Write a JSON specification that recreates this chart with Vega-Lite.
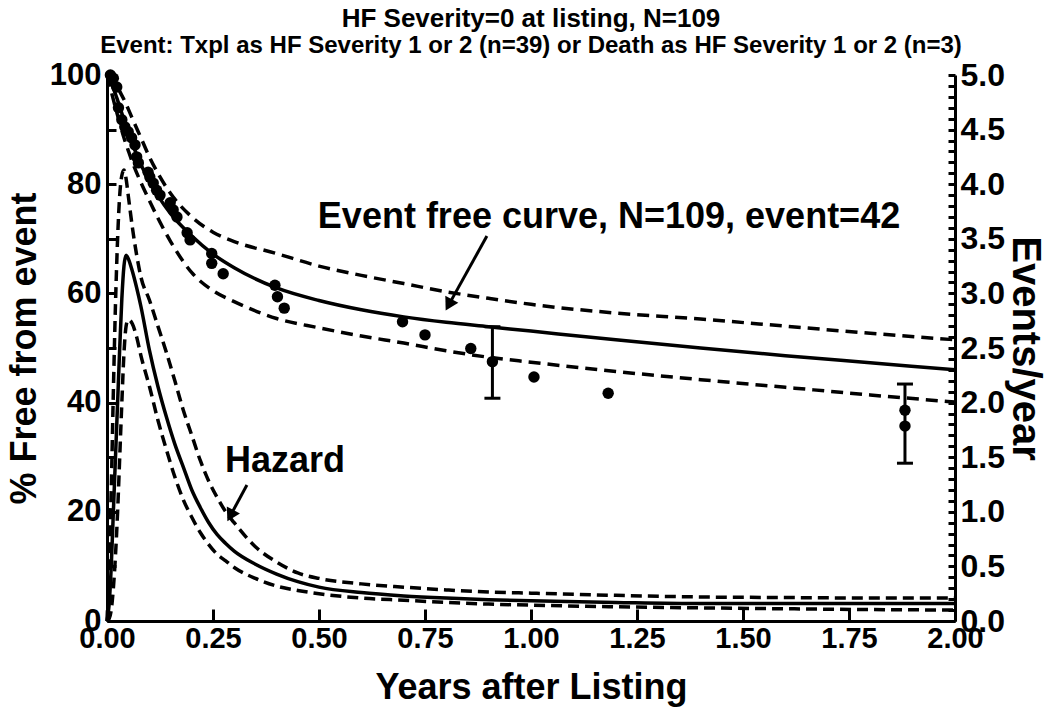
{
  "$schema": "https://vega.github.io/schema/vega-lite/v6.json",
  "width": 848,
  "height": 546,
  "autosize": {"type": "none"},
  "padding": {"left": 107, "top": 75, "right": 95, "bottom": 94},
  "background": "white",
  "title": {
    "text": "HF Severity=0 at listing, N=109",
    "subtitle": "Event: Txpl as HF Severity 1 or 2 (n=39) or Death as HF Severity 1 or 2 (n=3)",
    "font": "Liberation Sans",
    "subtitleFont": "Liberation Sans",
    "fontSize": 26,
    "subtitleFontSize": 24,
    "fontWeight": "bold",
    "subtitleFontWeight": "bold",
    "color": "black",
    "subtitleColor": "black",
    "anchor": "middle",
    "offset": 1,
    "subtitlePadding": 2
  },
  "datasets": {
    "surv": [
      {"t": 0, "S": 100, "lo": 100, "hi": 100},
      {"t": 0.01, "S": 98.5, "lo": 97, "hi": 99.5},
      {"t": 0.02, "S": 96.5, "lo": 94, "hi": 98.5},
      {"t": 0.03, "S": 94.2, "lo": 91.2, "hi": 97},
      {"t": 0.04, "S": 91.8, "lo": 88.5, "hi": 95.5},
      {"t": 0.05, "S": 89.5, "lo": 86.2, "hi": 93.8},
      {"t": 0.06, "S": 87.4, "lo": 84, "hi": 92},
      {"t": 0.08, "S": 83.6, "lo": 80.3, "hi": 88.5},
      {"t": 0.1, "S": 80.5, "lo": 77, "hi": 85},
      {"t": 0.12, "S": 77.9, "lo": 73.8, "hi": 82},
      {"t": 0.15, "S": 74.6, "lo": 69.5, "hi": 78.3},
      {"t": 0.2, "S": 70.5, "lo": 63.8, "hi": 74},
      {"t": 0.25, "S": 67.2, "lo": 60.5, "hi": 71.2},
      {"t": 0.3, "S": 64.7, "lo": 58.5, "hi": 69.5},
      {"t": 0.4, "S": 61.0, "lo": 55.4, "hi": 67.3},
      {"t": 0.5, "S": 58.7, "lo": 53.7, "hi": 65.0},
      {"t": 0.6, "S": 57.0, "lo": 52.2, "hi": 63.3},
      {"t": 0.7, "S": 55.7, "lo": 50.9, "hi": 61.8},
      {"t": 0.8, "S": 54.7, "lo": 49.5, "hi": 60.3},
      {"t": 0.9, "S": 53.9, "lo": 48.3, "hi": 59.1},
      {"t": 1.0, "S": 53.1, "lo": 47.4, "hi": 58.0},
      {"t": 1.2, "S": 51.5, "lo": 45.7, "hi": 56.4},
      {"t": 1.4, "S": 50.0, "lo": 44.2, "hi": 55.3},
      {"t": 1.6, "S": 48.6, "lo": 42.8, "hi": 54.0},
      {"t": 1.8, "S": 47.3, "lo": 41.4, "hi": 52.7},
      {"t": 2.0, "S": 46.0, "lo": 40.1, "hi": 51.5}
    ],
    "haz": [
      {"t": 0, "h": 0, "lo": 0, "hi": 0},
      {"t": 0.005, "h": 0.15, "lo": 0.02, "hi": 0.5},
      {"t": 0.01, "h": 0.5, "lo": 0.1, "hi": 1.2},
      {"t": 0.015, "h": 1.0, "lo": 0.3, "hi": 2.1},
      {"t": 0.02, "h": 1.5, "lo": 0.6, "hi": 2.9},
      {"t": 0.025, "h": 2.0, "lo": 1.0, "hi": 3.5},
      {"t": 0.03, "h": 2.5, "lo": 1.5, "hi": 3.9},
      {"t": 0.035, "h": 2.95, "lo": 2.0, "hi": 4.08},
      {"t": 0.04, "h": 3.25, "lo": 2.45, "hi": 4.13},
      {"t": 0.045, "h": 3.35, "lo": 2.7, "hi": 4.05},
      {"t": 0.05, "h": 3.32, "lo": 2.76, "hi": 3.9},
      {"t": 0.06, "h": 3.2, "lo": 2.72, "hi": 3.6},
      {"t": 0.07, "h": 3.05, "lo": 2.6, "hi": 3.35},
      {"t": 0.08, "h": 2.88, "lo": 2.43, "hi": 3.15},
      {"t": 0.1, "h": 2.48, "lo": 2.15, "hi": 2.94},
      {"t": 0.12, "h": 2.15, "lo": 1.84, "hi": 2.7},
      {"t": 0.14, "h": 1.87, "lo": 1.57, "hi": 2.46},
      {"t": 0.16, "h": 1.62, "lo": 1.32, "hi": 2.2},
      {"t": 0.18, "h": 1.41, "lo": 1.11, "hi": 1.93},
      {"t": 0.2, "h": 1.2, "lo": 0.95, "hi": 1.7},
      {"t": 0.22, "h": 1.04, "lo": 0.81, "hi": 1.47},
      {"t": 0.24, "h": 0.9, "lo": 0.7, "hi": 1.28},
      {"t": 0.26, "h": 0.79, "lo": 0.61, "hi": 1.13},
      {"t": 0.28, "h": 0.71, "lo": 0.55, "hi": 1.0},
      {"t": 0.3, "h": 0.64, "lo": 0.49, "hi": 0.9},
      {"t": 0.35, "h": 0.52, "lo": 0.39, "hi": 0.68},
      {"t": 0.4, "h": 0.43, "lo": 0.32, "hi": 0.54},
      {"t": 0.45, "h": 0.36, "lo": 0.28, "hi": 0.44},
      {"t": 0.5, "h": 0.31, "lo": 0.25, "hi": 0.39},
      {"t": 0.6, "h": 0.26, "lo": 0.21, "hi": 0.34},
      {"t": 0.7, "h": 0.23, "lo": 0.19, "hi": 0.31},
      {"t": 0.8, "h": 0.21, "lo": 0.17, "hi": 0.285},
      {"t": 0.9, "h": 0.195, "lo": 0.155, "hi": 0.265},
      {"t": 1.0, "h": 0.185, "lo": 0.145, "hi": 0.255},
      {"t": 1.2, "h": 0.17, "lo": 0.13, "hi": 0.235},
      {"t": 1.4, "h": 0.16, "lo": 0.12, "hi": 0.22},
      {"t": 1.6, "h": 0.16, "lo": 0.112, "hi": 0.215},
      {"t": 1.8, "h": 0.16, "lo": 0.105, "hi": 0.21},
      {"t": 2.0, "h": 0.16, "lo": 0.1, "hi": 0.21}
    ],
    "pts": [
      {"t": 0.008, "v": 100},
      {"t": 0.015, "v": 99.4},
      {"t": 0.023, "v": 97.8},
      {"t": 0.027, "v": 94.0},
      {"t": 0.035, "v": 91.8},
      {"t": 0.042, "v": 90.5},
      {"t": 0.05, "v": 89.6},
      {"t": 0.058, "v": 88.5},
      {"t": 0.066, "v": 87.2},
      {"t": 0.07, "v": 85.0},
      {"t": 0.074, "v": 83.9},
      {"t": 0.097, "v": 82.2},
      {"t": 0.101, "v": 81.3},
      {"t": 0.109, "v": 80.2},
      {"t": 0.117, "v": 78.9},
      {"t": 0.125, "v": 78.0},
      {"t": 0.149, "v": 76.6},
      {"t": 0.156, "v": 75.3},
      {"t": 0.165, "v": 74.0},
      {"t": 0.189, "v": 71.1},
      {"t": 0.196, "v": 69.8},
      {"t": 0.247, "v": 67.3},
      {"t": 0.247, "v": 65.5},
      {"t": 0.274, "v": 63.6},
      {"t": 0.396, "v": 61.5},
      {"t": 0.402, "v": 59.4},
      {"t": 0.418, "v": 57.3},
      {"t": 0.697, "v": 54.8},
      {"t": 0.75, "v": 52.4},
      {"t": 0.858, "v": 49.9},
      {"t": 0.909, "v": 47.5},
      {"t": 1.007, "v": 44.7},
      {"t": 1.182, "v": 41.7},
      {"t": 1.882, "v": 38.6},
      {"t": 1.882, "v": 35.7}
    ],
    "err": [
      {"t": 0.909, "lo": 40.8, "hi": 53.9},
      {"t": 1.882, "lo": 28.9, "hi": 43.4}
    ],
    "arrows": [
      {"name": "event", "t": 0.896, "v": 70.5, "t2": 0.806, "v2": 57.9},
      {"name": "hazard", "t": 0.33, "v": 24.9, "t2": 0.291, "v2": 19.3}
    ],
    "labels": [
      {"text": "Event free curve, N=109, event=42", "t": 1.184, "v": 74.0},
      {"text": "Hazard", "t": 0.42, "v": 29.3}
    ]
  },
  "config": {
    "font": "Liberation Sans",
    "view": {"stroke": null},
    "axis": {
      "grid": false,
      "domainColor": "black",
      "domainWidth": 3,
      "tickColor": "black",
      "tickWidth": 3,
      "labelColor": "black",
      "labelFontWeight": "bold",
      "titleColor": "black",
      "titleFontWeight": "bold",
      "labelFlush": false,
      "labelOverlap": false
    }
  },
  "layer": [
    {
      "layer": [
        {
          "data": {"name": "surv"},
          "mark": {"type": "line", "color": "black", "strokeWidth": 3.5, "interpolate": "monotone"},
          "encoding": {
            "x": {
              "field": "t", "type": "quantitative", "title": "Years after Listing",
              "scale": {"domain": [0, 2], "nice": false},
              "axis": {
                "values": [0, 0.25, 0.5, 0.75, 1, 1.25, 1.5, 1.75, 2],
                "tickCount": 20,
                "format": ".2f",
                "labelFontSize": 29,
                "labelPadding": 15,
                "labelOverlap": false,
                "titleFontSize": 36,
                "titlePadding": 17,
                "tickSize": -12
              }
            },
            "y": {
              "field": "S", "type": "quantitative", "title": "% Free from event",
              "scale": {"domain": [0, 100], "nice": false},
              "axis": {
                "values": [0, 10, 20, 30, 40, 50, 60, 70, 80, 90, 100],
                "tickCount": 20,
                "labelExpr": "datum.value % 20 == 0 ? datum.label : ''",
                "labelOverlap": false,
                "labelFontSize": 31,
                "labelPadding": 15,
                "titleFontSize": 36,
                "titlePadding": 6,
                "tickSize": -9
              }
            }
          }
        },
        {
          "data": {"name": "surv"},
          "mark": {"type": "line", "color": "black", "strokeWidth": 3.5, "strokeDash": [12, 7], "interpolate": "monotone"},
          "encoding": {
            "x": {"field": "t", "type": "quantitative", "title": "Years after Listing"},
            "y": {"field": "hi", "type": "quantitative", "title": "% Free from event"}
          }
        },
        {
          "data": {"name": "surv"},
          "mark": {"type": "line", "color": "black", "strokeWidth": 3.5, "strokeDash": [12, 7], "interpolate": "monotone"},
          "encoding": {
            "x": {"field": "t", "type": "quantitative", "title": "Years after Listing"},
            "y": {"field": "lo", "type": "quantitative", "title": "% Free from event"}
          }
        },
        {
          "data": {"name": "pts"},
          "mark": {"type": "point", "filled": true, "shape": "circle", "color": "black", "size": 130, "opacity": 1},
          "encoding": {
            "x": {"field": "t", "type": "quantitative", "title": "Years after Listing"},
            "y": {"field": "v", "type": "quantitative", "title": "% Free from event"}
          }
        },
        {
          "data": {"name": "err"},
          "mark": {"type": "errorbar", "ticks": {"size": 16, "thickness": 3, "color": "black", "opacity": 1}, "rule": {"color": "black", "opacity": 1}, "thickness": 3, "color": "black"},
          "encoding": {
            "x": {"field": "t", "type": "quantitative", "title": "Years after Listing"},
            "y": {"field": "lo", "type": "quantitative", "title": "% Free from event"},
            "y2": {"field": "hi"}
          }
        },
        {
          "data": {"name": "arrows"},
          "mark": {"type": "rule", "color": "black", "strokeWidth": 3},
          "encoding": {
            "x": {"field": "t", "type": "quantitative", "title": "Years after Listing"},
            "y": {"field": "v", "type": "quantitative", "title": "% Free from event"},
            "x2": {"field": "t2"},
            "y2": {"field": "v2"}
          }
        },
        {
          "data": {"name": "arrows"},
          "transform": [{"filter": "datum.name == 'event'"}],
          "mark": {"type": "point", "shape": "triangle-up", "filled": true, "color": "black", "opacity": 1, "size": 220, "angle": 208.6},
          "encoding": {
            "x": {"field": "t2", "type": "quantitative", "title": "Years after Listing"},
            "y": {"field": "v2", "type": "quantitative", "title": "% Free from event"}
          }
        },
        {
          "data": {"name": "arrows"},
          "transform": [{"filter": "datum.name == 'hazard'"}],
          "mark": {"type": "point", "shape": "triangle-up", "filled": true, "color": "black", "opacity": 1, "size": 220, "angle": 207.8},
          "encoding": {
            "x": {"field": "t2", "type": "quantitative", "title": "Years after Listing"},
            "y": {"field": "v2", "type": "quantitative", "title": "% Free from event"}
          }
        },
        {
          "data": {"name": "labels"},
          "mark": {"type": "text", "fontSize": 36, "fontWeight": "bold", "color": "black", "align": "center", "baseline": "middle"},
          "encoding": {
            "x": {"field": "t", "type": "quantitative", "title": "Years after Listing"},
            "y": {"field": "v", "type": "quantitative", "title": "% Free from event"},
            "text": {"field": "text"}
          }
        }
      ]
    },
    {
      "layer": [
        {
          "data": {"name": "haz"},
          "mark": {"type": "line", "color": "black", "strokeWidth": 3.5, "interpolate": "monotone"},
          "encoding": {
            "x": {"field": "t", "type": "quantitative", "title": "Years after Listing"},
            "y": {
              "field": "h", "type": "quantitative", "title": "Events/year",
              "scale": {"domain": [0, 5], "nice": false},
              "axis": {
                "orient": "right",
                "values": [0, 0.1, 0.2, 0.3, 0.4, 0.5, 0.6, 0.7, 0.8, 0.9, 1, 1.1, 1.2, 1.3, 1.4, 1.5, 1.6, 1.7, 1.8, 1.9, 2, 2.1, 2.2, 2.3, 2.4, 2.5, 2.6, 2.7, 2.8, 2.9, 3, 3.1, 3.2, 3.3, 3.4, 3.5, 3.6, 3.7, 3.8, 3.9, 4, 4.1, 4.2, 4.3, 4.4, 4.5, 4.6, 4.7, 4.8, 4.9, 5],
                "tickCount": 100,
                "labelExpr": "abs(datum.value * 10 - round(datum.value * 2) * 5) < 0.01 ? format(datum.value, '.1f') : ''",
                "labelOverlap": false,
                "labelFontSize": 32,
                "labelPadding": 12,
                "titleFontSize": 40,
                "titlePadding": 0,
                "tickSize": -7,
                "encode": {"ticks": {"update": {"x2": {"signal": "abs(datum.value * 10 - round(datum.value * 2) * 5) < 0.01 ? -14 : -7"}}}}
              }
            }
          }
        },
        {
          "data": {"name": "haz"},
          "mark": {"type": "line", "color": "black", "strokeWidth": 3.5, "strokeDash": [11, 6], "interpolate": "monotone"},
          "encoding": {
            "x": {"field": "t", "type": "quantitative", "title": "Years after Listing"},
            "y": {"field": "hi", "type": "quantitative", "title": "Events/year"}
          }
        },
        {
          "data": {"name": "haz"},
          "mark": {"type": "line", "color": "black", "strokeWidth": 3.5, "strokeDash": [11, 6], "interpolate": "monotone"},
          "encoding": {
            "x": {"field": "t", "type": "quantitative", "title": "Years after Listing"},
            "y": {"field": "lo", "type": "quantitative", "title": "Events/year"}
          }
        }
      ]
    }
  ],
  "resolve": {"scale": {"y": "independent"}}
}
